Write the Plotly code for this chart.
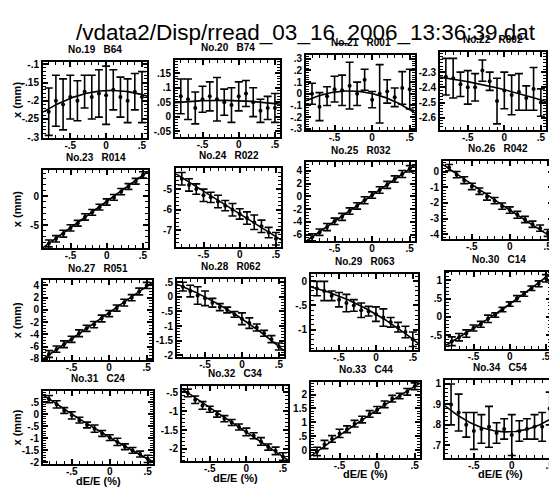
import numpy as np
import plotly.graph_objects as go

# page is 557x495; the browser body adds an 8px margin, so the figure is 8px smaller
PAGE_W, PAGE_H = 557, 495
OFF = 8
W, H = PAGE_W - OFF, PAGE_H - OFF
FONT = "Liberation Sans"

main_title = "/vdata2/Disp/rread_03_16_2006_13:36:39.dat"
panel_titles = ["No.19   B64", "No.20   B74", "No.21   R001", "No.22   R002",
                "No.23   R014", "No.24   R022", "No.25   R032", "No.26   R042",
                "No.27   R051", "No.28   R062", "No.29   R063", "No.30   C14",
                "No.31   C24", "No.32   C34", "No.33   C44", "No.34   C54"]

x_label = "dE/E (%)"
y_label = "x (mm)"

# dE/E (%) sample positions
dEE = [-0.8, -0.7, -0.6, -0.5, -0.4, -0.3, -0.2, -0.1, 0.0, 0.1, 0.2, 0.3, 0.4, 0.5]
x_ticks = [-0.5, 0.0, 0.5]

# measured x (mm) per BPM and error
y19 = [-0.23, -0.2, -0.21, -0.19, -0.2, -0.175, -0.19, -0.18, -0.185, -0.17, -0.19, -0.2, -0.175, -0.19]
e19 = [0.065, 0.07, 0.07, 0.06, 0.055, 0.045, 0.06, 0.065, 0.08, 0.055, 0.055, 0.06, 0.05, 0.07]
y20 = [0.07, 0.06, 0.03, 0.06, 0.07, 0.06, 0.05, 0.04, 0.07, 0.08, 0.05, 0.02, 0.03, 0.03]
e20 = [0.06, 0.07, 0.055, 0.045, 0.05, 0.075, 0.045, 0.06, 0.05, 0.045, 0.05, 0.04, 0.04, 0.05]
y21 = [0.0, -0.11, -0.02, 0.04, 0.03, 0.07, 0.0, 0.12, -0.05, 0.0, 0.02, -0.03, 0.05, 0.04]
e21 = [0.09, 0.12, 0.08, 0.11, 0.13, 0.2, 0.1, 0.09, 0.07, 0.25, 0.1, 0.08, 0.14, 0.17]
y22 = [-2.33, -2.34, -2.38, -2.40, -2.40, -2.29, -2.36, -2.49, -2.42, -2.45, -2.43, -2.47, -2.41, -2.50]
e22 = [0.12, 0.13, 0.08, 0.11, 0.09, 0.07, 0.06, 0.15, 0.12, 0.13, 0.12, 0.08, 0.14, 0.09]
y23 = [-8.2, -7.4, -6.5, -5.5, -4.7, -3.6, -2.8, -1.9, -1.0, -0.2, 0.8, 1.7, 2.6, 3.7]
e23 = [0.6, 0.55, 0.6, 0.55, 0.5, 0.55, 0.5, 0.5, 0.55, 0.5, 0.55, 0.5, 0.5, 0.55]
y24 = [-4.5, -4.8, -5.0, -5.3, -5.4, -5.6, -5.8, -6.0, -6.2, -6.4, -6.6, -6.8, -7.1, -7.4]
e24 = [0.3, 0.3, 0.25, 0.3, 0.25, 0.3, 0.25, 0.3, 0.25, 0.3, 0.35, 0.3, 0.25, 0.3]
y25 = [-6.4, -5.6, -4.8, -3.9, -3.2, -2.3, -1.5, -0.6, 0.2, 1.0, 1.8, 2.7, 3.5, 4.3]
e25 = [0.55, 0.5, 0.55, 0.5, 0.55, 0.5, 0.5, 0.55, 0.5, 0.5, 0.55, 0.5, 0.55, 0.5]
y26 = [0.25, -0.2, -0.55, -0.95, -1.25, -1.6, -1.85, -2.2, -2.45, -2.75, -3.05, -3.35, -3.6, -3.9]
e26 = [0.2, 0.2, 0.22, 0.2, 0.2, 0.22, 0.2, 0.2, 0.2, 0.22, 0.2, 0.2, 0.2, 0.22]
y27 = [-7.2, -6.4, -5.6, -4.8, -3.8, -3.0, -2.4, -1.4, -0.6, 0.3, 1.2, 2.0, 3.0, 4.0]
e27 = [0.55, 0.5, 0.55, 0.5, 0.55, 0.5, 0.5, 0.55, 0.5, 0.5, 0.55, 0.5, 0.55, 0.5]
y28 = [0.35, 0.2, 0.05, -0.05, -0.2, -0.35, -0.45, -0.6, -0.75, -0.9, -1.05, -1.25, -1.45, -1.7]
e28 = [0.15, 0.2, 0.3, 0.25, 0.15, 0.12, 0.1, 0.1, 0.2, 0.18, 0.12, 0.1, 0.12, 0.12]
y29 = [-0.15, -0.2, -0.3, -0.38, -0.45, -0.5, -0.6, -0.62, -0.68, -0.75, -0.85, -0.95, -1.05, -1.2]
e29 = [0.15, 0.2, 0.1, 0.15, 0.18, 0.12, 0.15, 0.1, 0.15, 0.18, 0.1, 0.1, 0.12, 0.15]
y30 = [-0.66, -0.55, -0.45, -0.3, -0.2, -0.05, 0.05, 0.2, 0.35, 0.5, 0.62, 0.78, 0.9, 1.05]
e30 = [0.12, 0.1, 0.1, 0.08, 0.08, 0.1, 0.06, 0.06, 0.06, 0.08, 0.06, 0.06, 0.08, 0.1]
y31 = [0.62, 0.4, 0.15, -0.05, -0.25, -0.45, -0.6, -0.8, -0.97, -1.15, -1.35, -1.5, -1.65, -1.85]
e31 = [0.15, 0.15, 0.12, 0.15, 0.12, 0.12, 0.15, 0.12, 0.12, 0.15, 0.12, 0.12, 0.12, 0.15]
y32 = [-0.52, -0.7, -0.85, -0.95, -1.08, -1.2, -1.3, -1.42, -1.55, -1.65, -1.8, -1.95, -2.05, -2.2]
e32 = [0.1, 0.1, 0.1, 0.08, 0.08, 0.08, 0.08, 0.08, 0.1, 0.08, 0.1, 0.08, 0.1, 0.1]
y33 = [-0.05, 0.2, 0.4, 0.6, 0.75, 0.95, 1.1, 1.3, 1.45, 1.65, 1.85, 1.95, 2.1, 2.3]
e33 = [0.15, 0.15, 0.12, 0.15, 0.12, 0.12, 0.12, 0.12, 0.12, 0.12, 0.12, 0.1, 0.12, 0.12]
y34 = [0.9, 0.86, 0.8, 0.77, 0.78, 0.79, 0.76, 0.78, 0.75, 0.77, 0.78, 0.79, 0.79, 0.88]
e34 = [0.1, 0.09, 0.06, 0.09, 0.07, 0.1, 0.05, 0.05, 0.1, 0.05, 0.05, 0.06, 0.07, 0.08]

Y = [y19, y20, y21, y22, y23, y24, y25, y26, y27, y28, y29, y30, y31, y32, y33, y34]
E = [e19, e20, e21, e22, e23, e24, e25, e26, e27, e28, e29, e30, e31, e32, e33, e34]

# fitted polynomial coefficients (c0 + c1*x + c2*x^2)
fit_c0 = [-0.172, 0.055, 0.0025, -2.415, -0.9, -6.2, 0.2, -2.45, -0.45, -0.75, -0.68, 0.35, -0.97, -1.55, 1.45, 0.766]
fit_c1 = [0.01, -0.01, -0.15, -0.12, 9.15, -2.2, 8.2, -3.2, 8.6, -1.7, -0.895, 1.39, -1.85, -1.3, 1.77, 0.023]
fit_c2 = [-0.065, -0.02, -0.25, -0.03, 0.0, 0.0, 0.0, 0.1, 0.0, -0.4, -0.29, 0.133, 0.175, -0.01, -0.135, 0.19]

# y axis ranges and tick values
y_ranges = [[-0.302, -0.094], [-0.07, 0.195], [-0.31, 0.33], [-2.68, -2.17],
            [-9.0, 4.5], [-7.8, -4.0], [-7.0, 5.3], [-4.3, 0.7],
            [-8.2, 4.8], [-2.07, 0.63], [-1.43, 0.16], [-0.88, 1.23],
            [-2.08, 0.97], [-2.33, -0.33], [-0.27, 2.46], [0.64, 1.02]]
y_ticks = [[-0.3, -0.25, -0.2, -0.15, -0.1], [-0.05, 0, 0.05, 0.1, 0.15],
           [-0.3, -0.2, -0.1, 0, 0.1, 0.2, 0.3], [-2.6, -2.5, -2.4, -2.3],
           [-5, 0], [-7, -6, -5], [-6, -4, -2, 0, 2, 4], [-4, -3, -2, -1, 0],
           [-8, -6, -4, -2, 0, 2, 4], [-2, -1.5, -1, -0.5, 0, 0.5], [-1, -0.5, 0],
           [-0.5, 0, 0.5, 1], [-2, -1.5, -1, -0.5, 0, 0.5], [-2, -1.5, -1, -0.5],
           [0, 0.5, 1, 1.5, 2], [0.7, 0.8, 0.9, 1]]
y_minor = [0.01, 0.01, 0.02, 0.02, 1, 0.2, 0.5, 0.2, 0.5, 0.1, 0.1, 0.1, 0.1, 0.1, 0.1, 0.02]
x_range = [-0.88, 0.57]

# panel frames in page pixels (left, right, top, bottom) - the scan is slightly skewed
frames = [(43, 147, 60, 137), (175, 280, 58, 136), (306, 415, 53, 129), (440, 546, 50, 129),
          (43, 148, 170, 249), (176, 281, 168, 248), (306, 415, 162, 242), (443, 553, 160, 240),
          (43, 152, 282, 363), (177, 284, 280, 360), (311, 418, 275, 353), (446, 551, 273, 352),
          (43, 153, 394, 469), (182, 288, 389, 466), (311, 420, 385, 462), (445, 555, 383, 462)]


def px(xp):
    return (xp - OFF) / W


def py(yp):
    return 1 - (yp - OFF) / H


def fmt(v):
    s = ("%g" % v)
    if s.startswith("0."):
        s = s[1:]
    elif s.startswith("-0."):
        s = "-" + s[2:]
    return s


fig = go.Figure()
tickfont = dict(family=FONT, size=10, color="black", weight="bold")
xfit = np.linspace(x_range[0], x_range[1], 120)
annotations = []

for i in range(16):
    n = i + 1
    xa, ya = ("x" if n == 1 else f"x{n}"), ("y" if n == 1 else f"y{n}")
    L, R, T, B = frames[i]
    c0, c1, c2 = fit_c0[i], fit_c1[i], fit_c2[i]
    fig.add_trace(go.Scatter(x=xfit, y=c0 + c1 * xfit + c2 * xfit ** 2, mode="lines",
                             line=dict(color="black", width=1.6), xaxis=xa, yaxis=ya,
                             showlegend=False, hoverinfo="skip"))
    fig.add_trace(go.Scatter(x=dEE, y=Y[i], mode="markers",
                             marker=dict(color="black", size=4),
                             error_y=dict(type="data", array=E[i], color="black",
                                          thickness=1.6, width=4),
                             xaxis=xa, yaxis=ya, showlegend=False))
    common = dict(showline=True, linecolor="black", linewidth=2, mirror="allticks",
                  ticks="inside", ticklen=5, tickwidth=1.5, tickcolor="black",
                  showgrid=False, zeroline=False, tickfont=tickfont)
    fig.layout[f"xaxis{n}"] = dict(domain=[px(L), px(R)], anchor=ya, range=x_range,
                                   tickvals=x_ticks, ticktext=[fmt(v) for v in x_ticks],
                                   minor=dict(ticks="inside", ticklen=3, tickwidth=1,
                                              tickcolor="black", dtick=0.1, tick0=0),
                                   ticklabelstandoff=-3, **common)
    fig.layout[f"yaxis{n}"] = dict(domain=[py(B), py(T)], anchor=xa,
                                   range=y_ranges[i], tickvals=y_ticks[i],
                                   ticktext=[fmt(v) for v in y_ticks[i]],
                                   minor=dict(ticks="inside", ticklen=3, tickwidth=1,
                                              tickcolor="black", dtick=y_minor[i], tick0=0),
                                   ticklabelstandoff=0, **common)
    annotations.append(dict(text=panel_titles[i], x=px((L + R) / 2), y=py(T - 5),
                            xref="paper", yref="paper", xanchor="center", yanchor="bottom",
                            showarrow=False,
                            font=dict(family=FONT, size=10, color="black", weight="bold")))
    if i % 4 == 0:
        annotations.append(dict(text=y_label, x=px(L - 26), y=py((T + B) / 2),
                                xref="paper", yref="paper", textangle=-90,
                                xanchor="center", yanchor="middle", showarrow=False,
                                font=dict(family=FONT, size=11, color="black", weight="bold")))
    if i >= 12:
        annotations.append(dict(text=x_label, x=px((L + R) / 2), y=py(B + 17),
                                xref="paper", yref="paper", xanchor="center", yanchor="middle",
                                showarrow=False,
                                font=dict(family=FONT, size=11, color="black", weight="bold")))

annotations.append(dict(text=main_title, x=px(306), y=py(30), xref="paper", yref="paper",
                        xanchor="center", yanchor="middle", showarrow=False,
                        font=dict(family=FONT, size=22.5, color="black")))

fig.update_layout(width=W, height=H, margin=dict(l=0, r=0, t=0, b=0),
                  paper_bgcolor="white", plot_bgcolor="white",
                  annotations=annotations)

fig.write_html("out.html")
